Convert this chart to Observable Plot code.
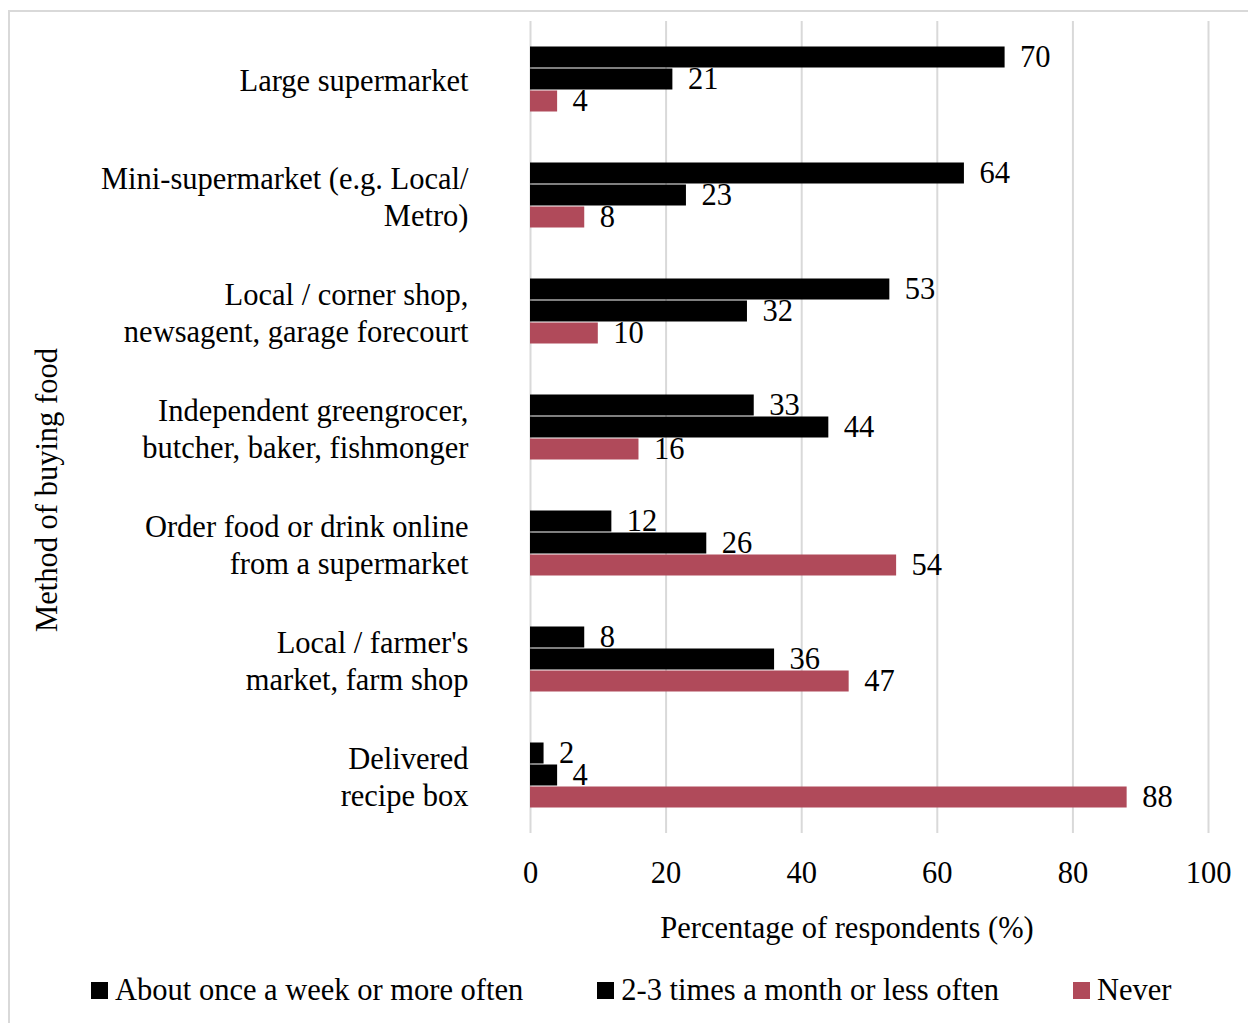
<!DOCTYPE html>
<html>
<head>
<meta charset="utf-8">
<script src="https://cdn.jsdelivr.net/npm/d3@7"></script>
<script src="https://cdn.jsdelivr.net/npm/@observablehq/plot@0.6"></script>
<style>
  html, body { margin: 0; padding: 0; background: #fff; overflow: hidden; }
  body { width: 1248px; height: 1023px; position: relative; font-family: "Liberation Serif", "Times New Roman", serif; color: #000; }
  #frame { position: absolute; left: 8px; top: 10px; width: 1300px; height: 1100px; border-left: 2px solid #d9d9d9; border-top: 2px solid #d9d9d9; box-sizing: border-box; }
  #chart { position: absolute; left: 0; top: 0; }
  .title { position: absolute; font-size: 30.5px; white-space: nowrap; line-height: 1; }
  #xtitle { left: 847px; top: 928px; transform: translate(-50%, -50%); }
  #ytitle { left: 47px; top: 490px; transform: translate(-50%, -50%) rotate(-90deg); }
  #legend { position: absolute; left: 91px; top: 975px; display: flex; gap: 74px; font-size: 30.5px; line-height: 30px; }
  .item { display: flex; align-items: center; gap: 7px; white-space: nowrap; }
  .sw { width: 17px; height: 17px; display: inline-block; }
</style>
</head>
<body>
<div id="frame"></div>
<div id="chart"></div>
<div class="title" id="xtitle"></div>
<div class="title" id="ytitle"></div>
<div id="legend"></div>
<script>
const categories = [
  "Large supermarket",
  "Mini-supermarket (e.g. Local/ Metro)",
  "Local / corner shop, newsagent, garage forecourt",
  "Independent greengrocer, butcher, baker, fishmonger",
  "Order food or drink online from a supermarket",
  "Local / farmer's market, farm shop",
  "Delivered recipe box"
];
const categoryLabels = [
  "Large supermarket",
  "Mini-supermarket (e.g. Local/\nMetro)",
  "Local / corner shop,\nnewsagent, garage forecourt",
  "Independent greengrocer,\nbutcher, baker, fishmonger",
  "Order food or drink online\nfrom a supermarket",
  "Local / farmer's\nmarket, farm shop",
  "Delivered\nrecipe box"
];
const seriesNames = ["About once a week or more often", "2-3 times a month or less often", "Never"];
const seriesColors = ["#000000", "#000000", "#b04a5a"];
const weekly  = [70, 64, 53, 33, 12, 8, 2];
const monthly = [21, 23, 32, 44, 26, 36, 4];
const never   = [4, 8, 10, 16, 54, 47, 88];
const xTicks = [0, 20, 40, 60, 80, 100];
const xTitle = "Percentage of respondents (%)";
const yTitle = "Method of buying food";

const FS = 30.5;
const seriesValues = [weekly, monthly, never];
const rows = [];
categories.forEach((c, i) => {
  seriesNames.forEach((s, j) => rows.push({category: c, series: s, value: seriesValues[j][i]}));
});
const labelOf = new Map(categories.map((c, i) => [c, categoryLabels[i]]));

const chart = Plot.plot({
  width: 1248,
  height: 960,
  marginLeft: 530,
  marginRight: 40,
  marginTop: 20,
  marginBottom: 127,
  style: {fontFamily: "Liberation Serif, Times New Roman, serif", fontSize: FS + "px", background: "transparent", color: "#000"},
  x: {domain: [0, 100], ticks: xTicks},
  fy: {domain: categories, padding: 0},
  y: {domain: seriesNames, paddingInner: 0, paddingOuter: 1.08, axis: null},
  color: {domain: seriesNames, range: seriesColors},
  marks: [
    Plot.gridX(xTicks, {stroke: "#d9d9d9", strokeOpacity: 1, strokeWidth: 2}),
    Plot.barX(rows, {x: "value", y: "series", fy: "category", fill: "series", insetTop: 0.5, insetBottom: 0.5}),
    Plot.text(rows, {x: "value", y: "series", fy: "category", text: d => String(d.value), dx: 15, textAnchor: "start", fontSize: FS, fill: "#000"}),
    Plot.axisX(xTicks, {anchor: "bottom", tickSize: 0, tickPadding: 28, fontSize: FS, label: null}),
    Plot.axisFy({anchor: "left", tickSize: 0, tickPadding: 62, fontSize: FS, lineHeight: 1.21, label: null, tickFormat: d => labelOf.get(d)})
  ]
});
document.getElementById("chart").appendChild(chart);
document.getElementById("xtitle").textContent = xTitle;
document.getElementById("ytitle").textContent = yTitle;
const legend = document.getElementById("legend");
seriesNames.forEach((s, i) => {
  const item = document.createElement("div");
  item.className = "item";
  const sw = document.createElement("span");
  sw.className = "sw";
  sw.style.background = seriesColors[i];
  const t = document.createElement("span");
  t.textContent = s;
  item.appendChild(sw);
  item.appendChild(t);
  legend.appendChild(item);
});
</script>
</body>
</html>
